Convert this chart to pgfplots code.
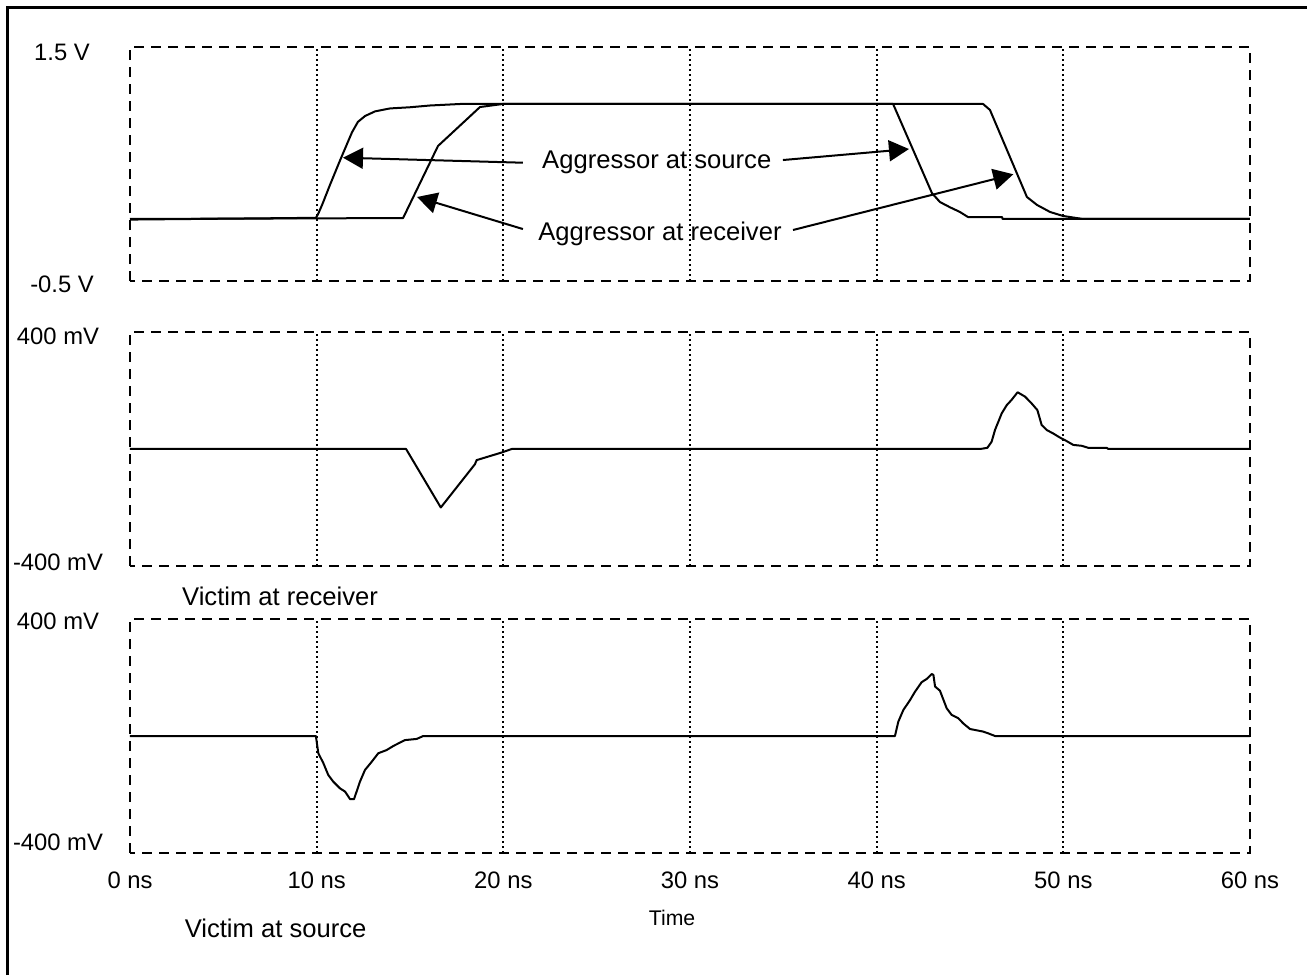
\documentclass[border=0pt]{standalone}
\usepackage{pgfplots}
\pgfplotsset{compat=1.18}
\usepackage{fontspec}
\setmainfont{Liberation Sans}
\usetikzlibrary{arrows.meta}
\newcommand{\lbl}{\fontsize{12.8}{15}\selectfont}
\newcommand{\tkl}{\fontsize{11.9}{14}\selectfont}
\pgfplotsset{
  panel/.style={
    scale only axis, width=560pt, height=117pt,
    xmin=0, xmax=60,
    axis line style={line width=1pt, dash pattern=on 5pt off 3.5pt},
    xtick={10,20,30,40,50}, xticklabels={},
    xmajorgrids=true,
    major grid style={black, line width=1pt, dash pattern=on 1.2pt off 1.3pt},
    major tick length=0pt,
    tick label style={font=\tkl},
    yticklabel style={anchor=base, xshift=-36pt, yshift=-4.2pt},
    clip=false,
  },
  curve/.style={black, line width=1pt, line join=round, mark=none},
}
\begin{document}
\begin{tikzpicture}
\useasboundingbox (0,0) rectangle (653.5pt,-487.5pt);
\draw[line width=1.5pt] (3.5pt,-487.5pt) -- (3.5pt,-3.5pt) -- (653.5pt,-3.5pt);

% ---- Panel 1: aggressor ----
\begin{axis}[panel, at={(65pt,-23.5pt)}, anchor=north west,
  ymin=-0.5, ymax=1.5, ytick={-0.5,1.5},
  yticklabels={\hspace*{4pt}\raisebox{-1.5pt}{-0.5 V},\hspace*{4pt}\raisebox{-2.5pt}{1.5 V}}]
\addplot[curve] coordinates {
(0,0.025) (9.96,0.04) (10.07,0.07) (10.29,0.15) (10.71,0.32) (11.25,0.53)
(11.89,0.77) (12.21,0.86) (12.59,0.91) (13.13,0.95) (13.93,0.975) (15.0,0.985)
(16.07,1.0) (17.7,1.013) (40.88,1.013) (42.96,0.252) (43.39,0.175) (43.93,0.13)
(44.46,0.09) (44.89,0.047) (46.71,0.047) (46.75,0.03) (60,0.03)};
\addplot[curve] coordinates {
(0,0.03) (14.63,0.038) (16.5,0.654) (18.75,0.987) (19.98,1.013) (45.7,1.013)
(46.07,0.962) (48.05,0.218) (48.59,0.15) (49.29,0.09) (49.98,0.056) (51.05,0.03) (60,0.03)};
\node[font=\lbl] at (axis cs:28.22,0.513) {Aggressor at source};
\node[font=\lbl] at (axis cs:28.39,-0.094) {Aggressor at receiver};
\draw[line width=1pt, -{Triangle[length=10pt,width=10.5pt]}] (axis cs:21.05,0.511) -- (axis cs:11.41,0.554);
\draw[line width=1pt, -{Triangle[length=10pt,width=10.5pt]}] (axis cs:34.98,0.534) -- (axis cs:41.73,0.628);
\draw[line width=1pt, -{Triangle[length=10pt,width=10.5pt]}] (axis cs:21.05,-0.056) -- (axis cs:15.375,0.218);
\draw[line width=1pt, -{Triangle[length=10pt,width=10.5pt]}] (axis cs:35.52,-0.064) -- (axis cs:47.32,0.412);
\end{axis}

% ---- Panel 2: victim at receiver ----
\begin{axis}[panel, at={(65pt,-166pt)}, anchor=north west,
  ymin=-400, ymax=400, ytick={-400,400},
  yticklabels={\raisebox{2pt}{-400 mV},\raisebox{-2pt}{400 mV}}]
\addplot[curve] coordinates {
(0,0) (14.79,0) (16.65,-200) (18.48,-52) (18.57,-38) (19.91,-12) (20.45,0)
(45.54,0) (45.93,4) (46.16,25) (46.34,65) (46.70,122) (46.97,150) (47.23,168)
(47.55,194) (47.95,179) (48.30,156) (48.61,133) (48.84,82) (49.11,65) (49.46,53)
(49.82,39) (50.18,27) (50.53,14) (50.98,11) (51.34,4) (52.32,4) (52.41,0) (60,0)};
\node[font=\lbl] at ([yshift=-15pt]axis description cs:0.134,0) {Victim at receiver};
\end{axis}

% ---- Panel 3: victim at source ----
\begin{axis}[panel, at={(65pt,-309.5pt)}, anchor=north west,
  ymin=-400, ymax=400, ytick={-400,400},
  yticklabels={\raisebox{5.5pt}{-400 mV},\raisebox{-1pt}{400 mV}},
  xticklabels={10 ns,20 ns,30 ns,40 ns,50 ns},
  extra x ticks={0,60}, extra x tick labels={0 ns,60 ns},
  extra x tick style={grid=none},
  xticklabel style={yshift=-6pt}]
\addplot[curve] coordinates {
(0,0) (9.96,0) (10.0,-19) (10.09,-59) (10.36,-93) (10.62,-133) (10.89,-156)
(11.25,-179) (11.52,-190) (11.79,-216) (12.0,-216) (12.14,-190) (12.32,-156)
(12.59,-116) (12.95,-88) (13.30,-59) (13.75,-48) (14.11,-34) (14.73,-14)
(15.36,-10) (15.71,0) (40.98,0) (41.16,49) (41.43,89) (41.79,123) (42.05,151)
(42.41,184) (42.68,195) (42.95,212) (43.04,209) (43.13,169) (43.39,155)
(43.75,95) (44.02,72) (44.37,61) (44.64,43) (45.0,24) (45.71,15) (45.98,9)
(46.34,0) (60,0)};
\node[font=\fontsize{10.6}{12}\selectfont] at ([yshift=-32.5pt]axis description cs:0.484,0) {Time};
\node[font=\lbl] at ([yshift=-37.5pt]axis description cs:0.130,0) {Victim at source};
\end{axis}
\end{tikzpicture}
\end{document}
